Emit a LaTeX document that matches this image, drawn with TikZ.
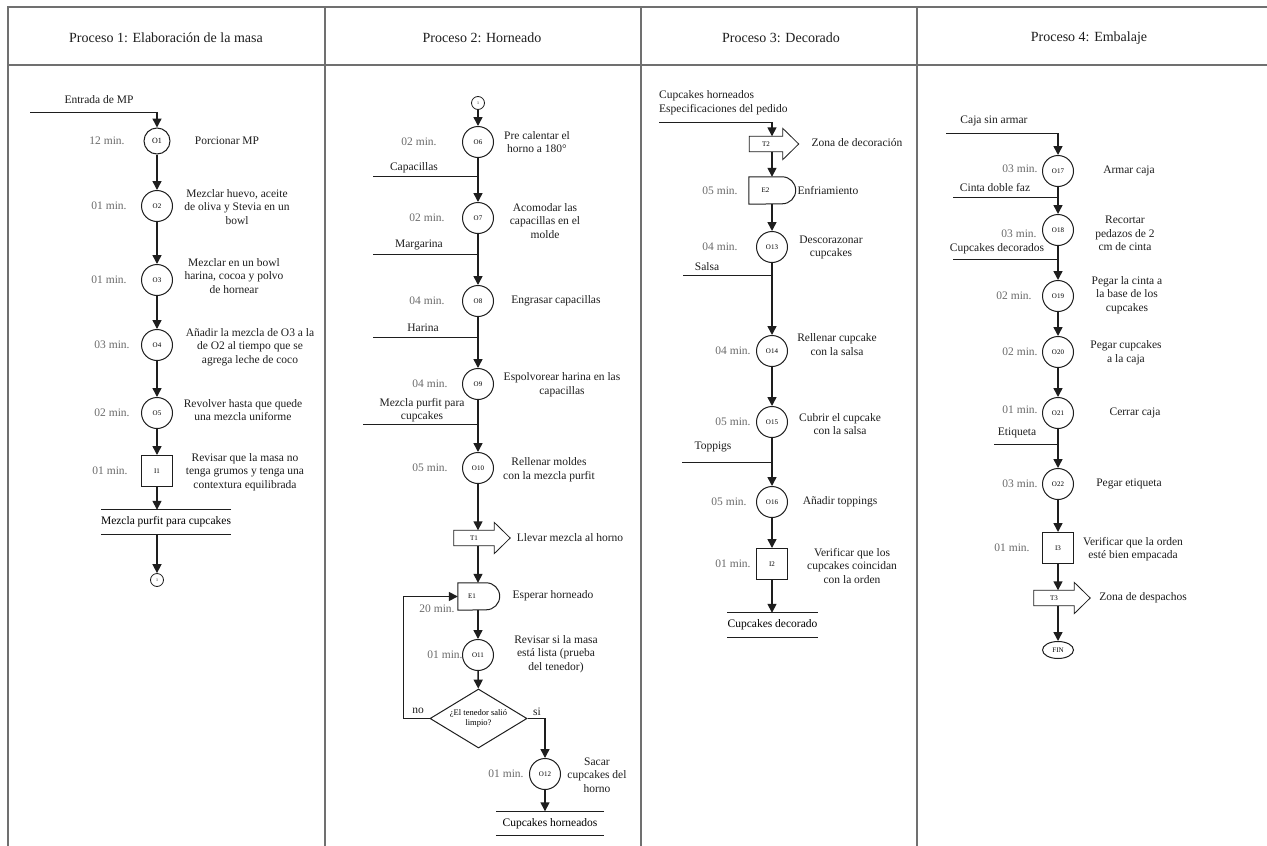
\documentclass[tikz,border=0pt]{standalone}
\usepackage{fontspec}
\setmainfont{Liberation Serif}
\usetikzlibrary{arrows.meta,shapes.geometric,calc}
\definecolor{ink}{HTML}{1E1E1E}
\definecolor{framegray}{HTML}{707070}
\definecolor{timegray}{HTML}{6A6A6A}
\newcommand\procfont{\fontsize{11.5}{13.5}\selectfont}
\newcommand\tagfont{\fontsize{7}{8}\selectfont}
\tikzset{
  % Simbolos del diagrama de proceso
  op/.style={draw=ink,line width=1pt,fill=white,circle,minimum size=31pt,
             inner sep=0pt,font=\tagfont},
  op1/.style={op,minimum size=26pt,font=\fontsize{8}{9}\selectfont},
  insp/.style={draw=ink,line width=1pt,fill=white,minimum size=31pt,
               inner sep=0pt,font=\tagfont},
  con/.style={draw=ink,line width=0.8pt,circle,minimum size=13pt,
              inner sep=0pt,font=\fontsize{4}{4}\selectfont},
  fin/.style={draw=ink,line width=1pt,ellipse,minimum width=31pt,
              minimum height=17pt,inner sep=0pt,font=\tagfont},
  dec/.style={draw=ink,line width=1pt,diamond,aspect=1.64,minimum width=97pt,
              minimum height=59pt,inner sep=0pt,align=center,
              font=\fontsize{8.5}{10}\selectfont},
  % Demora (media luna)
  delay/.style={
    draw=none,minimum width=28pt,minimum height=27pt,inner sep=0pt,font=\tagfont,
    append after command={
      \pgfextra{
        \draw[ink,line width=1pt] (\tikzlastnode.south west) -- (\tikzlastnode.north west)
          -- (\tikzlastnode.north east) arc[start angle=90,end angle=-90,radius=13.5pt]
          -- cycle;
      }
    }
  },
  % Transporte (flecha gruesa)
  transp/.style={
    draw=none,minimum width=40pt,minimum height=15pt,inner sep=0pt,font=\tagfont,
    append after command={
      \pgfextra{
        \draw[ink,line width=0.8pt] (\tikzlastnode.south west) -- (\tikzlastnode.north west)
          -- (\tikzlastnode.north east) -- ([yshift=8pt]\tikzlastnode.north east)
          -- ([xshift=16pt]\tikzlastnode.east) -- ([yshift=-8pt]\tikzlastnode.south east)
          -- (\tikzlastnode.south east) -- cycle;
      }
    }
  },
  % Producto de salida entre dos lineas
  bar/.style={
    draw=none,minimum height=24pt,inner sep=0pt,font=\procfont,
    append after command={
      \pgfextra{
        \draw[ink,line width=0.8pt] (\tikzlastnode.north east) -- (\tikzlastnode.north west);
        \draw[ink,line width=0.8pt] (\tikzlastnode.south west) -- (\tikzlastnode.south east);
      }
    }
  },
  % Conectores y textos
  fl/.style={-{Triangle[length=9pt,width=9pt]},ink,line width=1.5pt},
  inl/.style={ink,line width=0.9pt},
  frame/.style={framegray,line width=1.2pt},
  ttl/.style={font=\fontsize{14}{16}\selectfont,text=ink,inner sep=0pt},
  ds/.style={font=\procfont,text=ink,align=center,inner sep=0pt},
  tm/.style={font=\procfont,text=timegray,inner sep=0pt},
  inlb/.style={font=\procfont,text=ink,align=center,inner sep=0pt}
}

\begin{document}
\begin{tikzpicture}[x=1pt,y=-1pt]
  \useasboundingbox (0,0) rectangle (1267,846);
  \fill[white] (0,0) rectangle (1267,846);

  % Marco y encabezados
  \draw[frame] (8,846) -- (8,7) -- (1267,7);
  \draw[frame] (8,65) -- (1267,65);
  \draw[frame] (325,7) -- (325,846);
  \draw[frame] (641,7) -- (641,846);
  \draw[frame] (917,7) -- (917,846);
  \node[ttl] (h1) at (166,38)  {Proceso 1: Elaboración de la masa};
  \node[ttl] (h2) at (482,38)  {Proceso 2: Horneado};
  \node[ttl] (h3) at (781,38)  {Proceso 3: Decorado};
  \node[ttl] (h4) at (1089,38) {Proceso 4: Embalaje};

  % Proceso 1
  \coordinate (mpin) at (30,112);
  \node[inlb] (lmp) at (99,100) {Entrada de MP};
  \node[op1] (o1) at (157,141) {O1};
  \node[op]  (o2) at (157,206) {O2};
  \node[op]  (o3) at (157,280) {O3};
  \node[op]  (o4) at (157,345) {O4};
  \node[op]  (o5) at (157,413) {O5};
  \node[insp] (i1) at (157,471) {I1};
  \node[bar,minimum width=118pt] (mix) at (166,522) {Mezcla purfit para cupcakes};
  \node[con] (c1) at (157,580) {1};

  \node[tm] (m1) at (107,141) {12 min.};
  \node[tm] (m2) at (109,206) {01 min.};
  \node[tm] (m3) at (109,280) {01 min.};
  \node[tm] (m4) at (112,345) {03 min.};
  \node[tm] (m5) at (112,413) {02 min.};
  \node[tm] (m6) at (110,471) {01 min.};

  \node[ds] (d1) at (227,141) {Porcionar MP};
  \node[ds] (d2) at (237,207) {Mezclar huevo, aceite\\de oliva y Stevia en un\\bowl};
  \node[ds] (d3) at (234,276) {Mezclar en un bowl\\harina, cocoa y polvo\\de hornear};
  \node[ds] (d4) at (250,347) {Añadir la mezcla de O3 a la\\de O2 al tiempo que se\\agrega leche de coco};
  \node[ds] (d5) at (243,410) {Revolver hasta que quede\\una mezcla uniforme};
  \node[ds] (d6) at (245,472) {Revisar que la masa no\\tenga grumos y tenga una\\contextura equilibrada};

  \draw[inl] (mpin) -- (mpin -| o1);
  \draw[fl] (mpin -| o1) -- (o1);
  \draw[fl] (o1) -- (o2);
  \draw[fl] (o2) -- (o3);
  \draw[fl] (o3) -- (o4);
  \draw[fl] (o4) -- (o5);
  \draw[fl] (o5) -- (i1);
  \draw[fl] (i1) -- (mix.north -| i1);
  \draw[fl] (mix.south -| i1) -- (c1);

  % Proceso 2
  \node[con] (c2) at (478,103) {1};
  \node[op] (o6)  at (478,142) {O6};
  \node[op] (o7)  at (478,218) {O7};
  \node[op] (o8)  at (478,301) {O8};
  \node[op] (o9)  at (478,384) {O9};
  \node[op] (o10) at (478,468) {O10};
  \node[transp] (t1) at (474,538) {T1};
  \node[delay] (e1) at (472,596.5) {E1};
  \node[op] (o11) at (478,655) {O11};
  \node[dec] (tst) at (478.5,718.5) {¿El tenedor salió\\limpio?};
  \node[op] (o12) at (545,774) {O12};
  \node[bar,minimum width=108pt] (cuph) at (550,823.5) {Cupcakes horneados};

  \coordinate (capin) at (373,176);
  \coordinate (marin) at (373,254);
  \coordinate (harin) at (373,337);
  \coordinate (mpfin) at (363,424);
  \node[inlb] (lcap) at (414,168) {Capacillas};
  \node[inlb] (lmar) at (419,245) {Margarina};
  \node[inlb] (lhar) at (423,328) {Harina};
  \node[inlb] (lmpf) at (422,410) {Mezcla purfit para\\cupcakes};

  \node[tm] (m7)  at (419,142) {02 min.};
  \node[tm] (m8)  at (427,218) {02 min.};
  \node[tm] (m9)  at (427,301) {04 min.};
  \node[tm] (m10) at (430,384) {04 min.};
  \node[tm] (m11) at (430,468) {05 min.};
  \node[tm] (m12) at (437,609) {20 min.};
  \node[tm] (m13) at (445,655) {01 min.};
  \node[tm] (m14) at (506,774) {01 min.};

  \node[ds] (d7)  at (537,142) {Pre calentar el\\horno a 180°};
  \node[ds] (d8)  at (545,221) {Acomodar las\\capacillas en el\\molde};
  \node[ds] (d9)  at (556,301) {Engrasar capacillas};
  \node[ds] (d10) at (562,384.5) {Espolvorear harina en las\\capacillas};
  \node[ds] (d11) at (549,469.5) {Rellenar moldes\\con la mezcla purfit};
  \node[ds] (d12) at (570,538) {Llevar mezcla al horno};
  \node[ds] (d13) at (553,596) {Esperar horneado};
  \node[ds] (d14) at (556,654) {Revisar si la masa\\está lista (prueba\\del tenedor)};
  \node[ds] (d15) at (597,775) {Sacar\\cupcakes del\\horno};
  \node[inlb] (lno) at (418,711) {no};
  \node[inlb] (lsi) at (537,712) {si};

  \draw[fl] (c2) -- (o6);
  \draw[fl] (o6) -- (o7);
  \draw[fl] (o7) -- (o8);
  \draw[fl] (o8) -- (o9);
  \draw[fl] (o9) -- (o10);
  \draw[fl] (o10) -- (t1.north -| o10);
  \draw[fl] (t1.south -| o10) -- (e1.north -| o10);
  \draw[fl] (e1.south -| o10) -- (o11);
  \draw[fl] (o11) -- (tst);
  \draw[fl] (tst.west) -- ++(-26,0) |- (e1.west);
  \draw[fl] (tst.east) -| (o12);
  \draw[fl] (o12) -- (cuph.north -| o12);
  \draw[inl] (capin) -- (capin -| o6);
  \draw[inl] (marin) -- (marin -| o7);
  \draw[inl] (harin) -- (harin -| o8);
  \draw[inl] (mpfin) -- (mpfin -| o9);

  % Proceso 3
  \coordinate (pedin) at (659,122);
  \node[inlb,anchor=west,align=left] (lped) at (659,102.5) {Cupcakes horneados\\Especificaciones del pedido};
  \node[transp,minimum width=33pt] (t2) at (766,144) {T2};
  \node[delay,minimum width=33pt] (e2) at (765.5,190.5) {E2};
  \node[op] (o13) at (772,247) {O13};
  \node[op] (o14) at (772,351) {O14};
  \node[op] (o15) at (772,422) {O15};
  \node[op] (o16) at (772,502) {O16};
  \node[insp] (i2) at (772,564) {I2};
  \node[bar,minimum width=87pt] (cupd) at (772.5,625) {Cupcakes decorado};

  \coordinate (salin) at (683,275);
  \coordinate (topin) at (682,462);
  \node[inlb] (lsal) at (707,267) {Salsa};
  \node[inlb] (ltop) at (713,447) {Toppigs};

  \node[tm] (m15) at (720,191) {05 min.};
  \node[tm] (m16) at (720,247) {04 min.};
  \node[tm] (m17) at (733,351) {04 min.};
  \node[tm] (m18) at (733,422) {05 min.};
  \node[tm] (m19) at (729,502) {05 min.};
  \node[tm] (m20) at (733,564) {01 min.};

  \node[ds] (d16) at (857,143) {Zona de decoración};
  \node[ds] (d17) at (828,191) {Enfriamiento};
  \node[ds] (d18) at (831,247.5) {Descorazonar\\cupcakes};
  \node[ds] (d19) at (837,344.5) {Rellenar cupcake\\con la salsa};
  \node[ds] (d20) at (840,424) {Cubrir el cupcake\\con la salsa};
  \node[ds] (d21) at (840,502) {Añadir toppings};
  \node[ds] (d22) at (852,566) {Verificar que los\\cupcakes coincidan\\con la orden};

  \draw[inl] (pedin) -- (pedin -| o13);
  \draw[fl] (pedin -| o13) -- (t2.north -| o13);
  \draw[fl] (t2.south -| o13) -- (e2.north -| o13);
  \draw[fl] (e2.south -| o13) -- (o13);
  \draw[fl] (o13) -- (o14);
  \draw[fl] (o14) -- (o15);
  \draw[fl] (o15) -- (o16);
  \draw[fl] (o16) -- (i2);
  \draw[fl] (i2) -- (cupd.north -| i2);
  \draw[inl] (salin) -- (salin -| o13);
  \draw[inl] (topin) -- (topin -| o15);

  % Proceso 4
  \coordinate (cajin) at (946,133);
  \coordinate (cinin) at (953,197);
  \coordinate (cupin) at (953,259);
  \coordinate (etiin) at (994,444);
  \node[inlb] (lcaj) at (994,121) {Caja sin armar};
  \node[inlb] (lcin) at (995,188) {Cinta doble faz};
  \node[inlb] (lcup) at (997,249) {Cupcakes decorados};
  \node[inlb] (leti) at (1017,433) {Etiqueta};

  \node[op] (o17) at (1058,171) {O17};
  \node[op] (o18) at (1058,230) {O18};
  \node[op] (o19) at (1058,296) {O19};
  \node[op] (o20) at (1058,352) {O20};
  \node[op] (o21) at (1058,413) {O21};
  \node[op] (o22) at (1058,484) {O22};
  \node[insp] (i3) at (1058,548) {I3};
  \node[transp] (t3) at (1054,598) {T3};
  \node[fin] (fin) at (1058,650) {FIN};

  \node[tm] (m21) at (1020,169) {03 min.};
  \node[tm] (m22) at (1019,234) {03 min.};
  \node[tm] (m23) at (1014,296) {02 min.};
  \node[tm] (m24) at (1020,352) {02 min.};
  \node[tm] (m25) at (1020,410) {01 min.};
  \node[tm] (m26) at (1020,484) {03 min.};
  \node[tm] (m27) at (1012,548) {01 min.};

  \node[ds] (d23) at (1129,171) {Armar caja};
  \node[ds] (d24) at (1125,233.5) {Recortar\\pedazos de 2\\cm de cinta};
  \node[ds] (d25) at (1127,295) {Pegar la cinta a\\la base de los\\cupcakes};
  \node[ds] (d26) at (1126,352.5) {Pegar cupcakes\\a la caja};
  \node[ds] (d27) at (1135,413) {Cerrar caja};
  \node[ds] (d28) at (1129,484) {Pegar etiqueta};
  \node[ds] (d29) at (1133,549) {Verificar que la orden\\esté bien empacada};
  \node[ds] (d30) at (1143,598) {Zona de despachos};

  \draw[inl] (cajin) -- (cajin -| o17);
  \draw[fl] (cajin -| o17) -- (o17);
  \draw[fl] (o17) -- (o18);
  \draw[fl] (o18) -- (o19);
  \draw[fl] (o19) -- (o20);
  \draw[fl] (o20) -- (o21);
  \draw[fl] (o21) -- (o22);
  \draw[fl] (o22) -- (i3);
  \draw[fl] (i3) -- (t3.north -| i3);
  \draw[fl] (t3.south -| i3) -- (fin);
  \draw[inl] (cinin) -- (cinin -| o17);
  \draw[inl] (cupin) -- (cupin -| o18);
  \draw[inl] (etiin) -- (etiin -| o21);
\end{tikzpicture}
\end{document}
